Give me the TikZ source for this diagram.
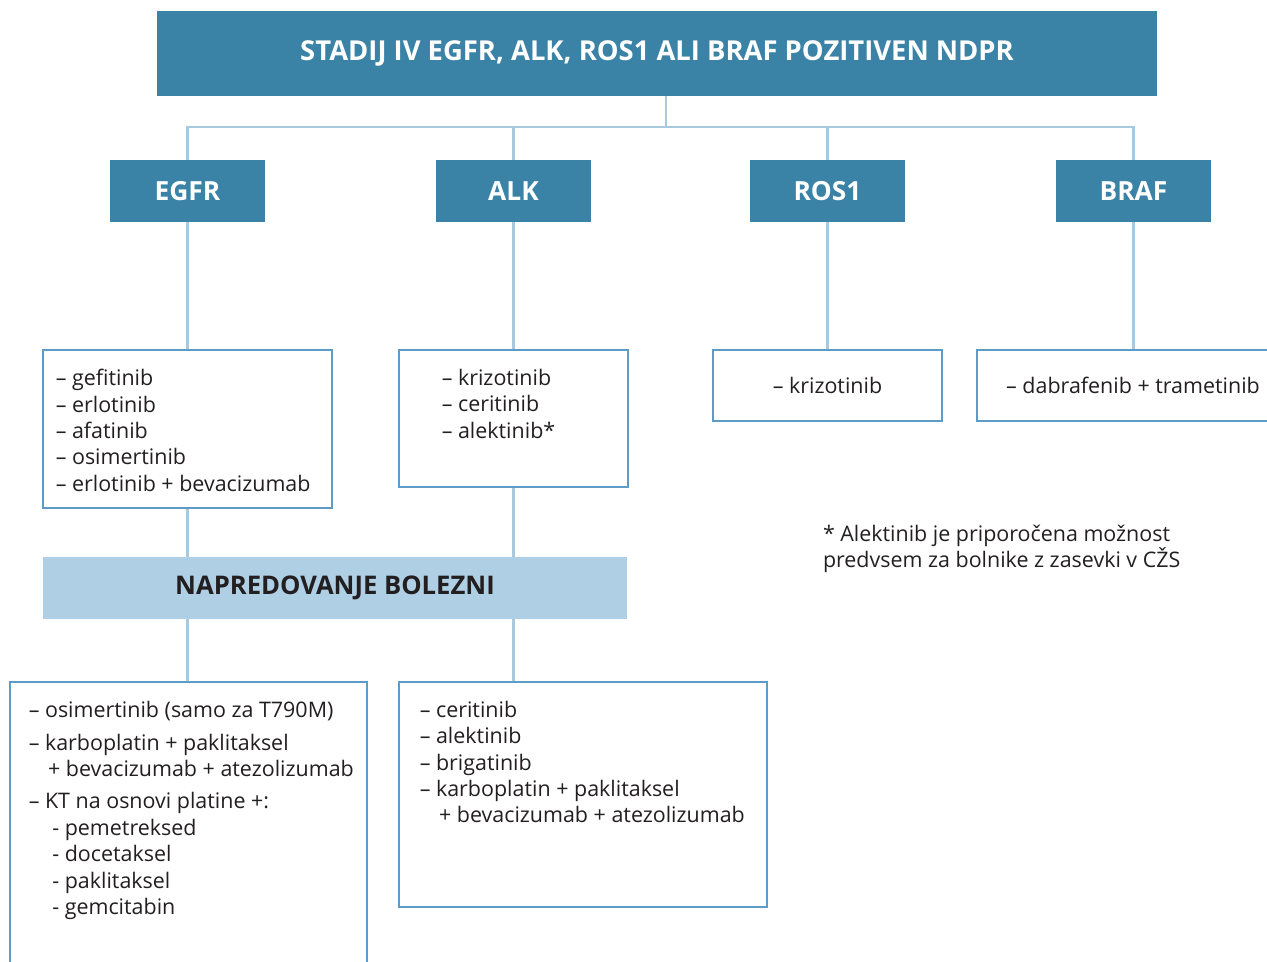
\documentclass[tikz,border=0pt]{standalone}
\usepackage{fontspec}
\setmainfont{Open Sans}
\usetikzlibrary{positioning}
\definecolor{temnomodra}{HTML}{3A82A6}
\definecolor{svetlomodra}{HTML}{AECFE4}
\definecolor{crta}{HTML}{A9CADE}
\definecolor{rob}{HTML}{5C9CC6}
\definecolor{besedilo}{HTML}{231F20}
\tikzset{
    glava/.style={
        fill=temnomodra,
        text=white,
        font=\bfseries\fontsize{15.6}{18}\selectfont,
        minimum width=20cm,
        minimum height=1.7cm
    },
    skupina/.style={
        fill=temnomodra,
        text=white,
        font=\bfseries\fontsize{15}{17}\selectfont,
        minimum width=3.1cm,
        minimum height=1.24cm
    },
    okvir/.style={
        draw=rob,
        line width=1.4pt,
        fill=white,
        text=besedilo,
        font=\fontsize{12.2}{15}\selectfont
    },
    seznam/.style={
        inner sep=0pt,
        outer sep=0pt,
        align=left,
        text=besedilo,
        font=\fontsize{12.2}{15}\selectfont
    },
    povezava/.style={
        draw=crta,
        line width=1.6pt
    }
}

\begin{document}
\begin{tikzpicture}[
    x=0.02cm,
    y=-0.02cm
]

    \clip (0,0) rectangle (1267,962);

    % Glava
    \node[glava] (glava) at (657,53.5) {STADIJ IV EGFR, ALK, ROS1 ALI BRAF POZITIVEN NDPR};
    \coordinate (razcep) at (666,127);

    % Skupine
    \node[skupina] (egfr) at (187.5,191) {EGFR};
    \node[skupina] (alk)  at (513.5,191) {ALK};
    \node[skupina] (ros)  at (827.5,191) {ROS1};
    \node[skupina] (braf) at (1133.5,191) {BRAF};

    % Zdravila
    \node[okvir, minimum width=5.78cm, minimum height=3.16cm] (egfrzd) at (187.5,429) {};
    \node[okvir, minimum width=4.58cm, minimum height=2.74cm] (alkzd)  at (513.5,418.5) {};
    \node[okvir, minimum width=4.58cm, minimum height=1.42cm] (roszd)  at (827.5,385.5) {-- krizotinib};
    \node[okvir, minimum width=6.24cm, minimum height=1.42cm] (brafzd) at (1133,385.5) {-- dabrafenib + trametinib};

    \node[seznam, below right=0.41cm and 0.28cm of egfrzd.north west] (egfrsez)
        {-- gefitinib\\-- erlotinib\\-- afatinib\\-- osimertinib\\-- erlotinib + bevacizumab};
    \node[seznam, below right=0.41cm and 0.88cm of alkzd.north west] (alksez)
        {-- krizotinib\\-- ceritinib\\-- alektinib*};

    % Opomba
    \node[seznam, anchor=north west] (opomba) at (823,525)
        {* Alektinib je priporočena možnost\\predvsem za bolnike z zasevki v CŽS};

    % Napredovanje
    \node[fill=svetlomodra, text=besedilo, font=\bfseries\fontsize{14.6}{17}\selectfont,
        minimum width=11.68cm, minimum height=1.24cm] (napred) at (335,588) {NAPREDOVANJE BOLEZNI};

    \node[okvir, minimum width=7.14cm, minimum height=6.36cm] (egfrnap) at (188.5,841) {};
    \node[okvir, minimum width=7.36cm, minimum height=4.5cm]  (alknap)  at (583,794.5) {};

    \node[seznam, below right=0.41cm and 0.4cm of egfrnap.north west] (egfrnapsez)
        {-- osimertinib (samo za T790M)\\[3.5pt]
         -- karboplatin + paklitaksel\\
         \hspace{0.9em}+ bevacizumab + atezolizumab\\[3.5pt]
         -- KT na osnovi platine +:\\
         \hspace{1.1em}- pemetreksed\\
         \hspace{1.1em}- docetaksel\\
         \hspace{1.1em}- paklitaksel\\
         \hspace{1.1em}- gemcitabin};
    \node[seznam, below right=0.41cm and 0.44cm of alknap.north west] (alknapsez)
        {-- ceritinib\\-- alektinib\\-- brigatinib\\-- karboplatin + paklitaksel\\
         \hspace{0.9em}+ bevacizumab + atezolizumab};

    % Povezave
    \draw[povezava] (glava.south -| razcep) -- (razcep);
    \draw[povezava] (egfr.north) -- (egfr.north |- razcep) -- (braf.north |- razcep) -- (braf.north);
    \draw[povezava] (alk.north) -- (alk.north |- razcep);
    \draw[povezava] (ros.north) -- (ros.north |- razcep);

    \draw[povezava] (egfr) -- (egfrzd);
    \draw[povezava] (alk) -- (alkzd);
    \draw[povezava] (ros) -- (roszd);
    \draw[povezava] (braf.south) -- (braf.south |- brafzd.north);

    \draw[povezava] (egfrzd.south) -- (egfrzd.south |- napred.north);
    \draw[povezava] (alkzd.south) -- (alkzd.south |- napred.north);
    \draw[povezava] (egfrzd.south |- napred.south) -- (egfrnap.north -| egfrzd.south);
    \draw[povezava] (alkzd.south |- napred.south) -- (alknap.north -| alkzd.south);

\end{tikzpicture}
\end{document}
